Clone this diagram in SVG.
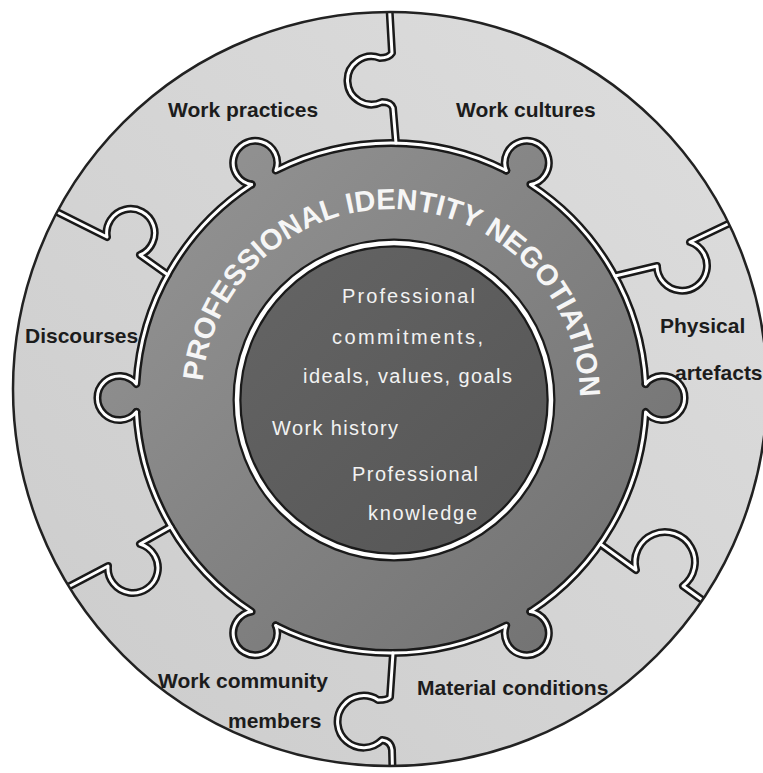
<svg xmlns="http://www.w3.org/2000/svg" width="763" height="773" viewBox="0 0 763 773">
<defs>
<style>
.lbl{font-family:"Liberation Sans",Arial,sans-serif;font-weight:bold;font-size:21px;fill:#1c1c1c}
.in{font-family:"Liberation Sans",Arial,sans-serif;font-size:20px;fill:#f2f2f2}
.arc{font-family:"Liberation Sans",Arial,sans-serif;font-weight:bold;font-size:29px;fill:#f6f6f6}
.blk{fill:none;stroke:#1a1a1a;stroke-width:8;stroke-linejoin:round;stroke-linecap:round}
.wht{fill:none;stroke:#ffffff;stroke-width:3;stroke-linejoin:round;stroke-linecap:round}
</style>
<linearGradient id="og" gradientUnits="userSpaceOnUse" x1="60" y1="700" x2="700" y2="80">
<stop offset="0" stop-color="#cdcdcd"/><stop offset="1" stop-color="#dcdcdc"/>
</linearGradient>
<linearGradient id="mg" gradientUnits="userSpaceOnUse" x1="160" y1="160" x2="630" y2="640">
<stop offset="0" stop-color="#939393"/><stop offset="1" stop-color="#717171"/>
</linearGradient>
<linearGradient id="ig" gradientUnits="userSpaceOnUse" x1="260" y1="260" x2="540" y2="550">
<stop offset="0" stop-color="#646464"/><stop offset="1" stop-color="#555555"/>
</linearGradient>
<path id="seg" d="M 645.62,384 A 22 22 0 1 1 645.62,412 A 255 255 0 0 1 530.43,611.51"/>
<path id="knob" d="M 645.62,384 A 22 22 0 1 1 645.62,412 Z"/>
<clipPath id="midclip">
<circle cx="391" cy="398" r="255"/>
<use href="#knob"/>
<use href="#knob" transform="rotate(60 391 398)"/>
<use href="#knob" transform="rotate(120 391 398)"/>
<use href="#knob" transform="rotate(180 391 398)"/>
<use href="#knob" transform="rotate(240 391 398)"/>
<use href="#knob" transform="rotate(300 391 398)"/>
</clipPath>
<clipPath id="outclip"><circle cx="390" cy="389" r="377"/></clipPath>
<g id="divs">
<path d="M 389,0 L 392,53 Q 389,58 380,58 A 24 24 0 1 0 382,102 Q 391,102 393,108 L 396,143.05"/>
<path d="M 615.1,276 L 657,266 A 25 25 0 1 0 690,242 L 730,223 L 775,202"/>
<path d="M 600.2,543.9 L 636,570 A 30 30 0 1 1 683,586 L 712,607 L 745,631"/>
<path d="M 393,653 L 390,697 Q 388,700 378,700 A 26 26 0 1 0 382,740 Q 391,741 392,750 L 393,790"/>
<path d="M 170.8,526.6 L 140,544 A 25 25 0 1 1 108,566 L 68,587 L 25,610"/>
<path d="M 15,190 L 57,212 L 107,237 A 24 24 0 1 1 140,255 L 167.7,274.8"/>
</g>
<g id="ringline">
<use href="#seg"/>
<use href="#seg" transform="rotate(60 391 398)"/>
<use href="#seg" transform="rotate(120 391 398)"/>
<use href="#seg" transform="rotate(180 391 398)"/>
<use href="#seg" transform="rotate(240 391 398)"/>
<use href="#seg" transform="rotate(300 391 398)"/>
</g>
<path id="tp" d="M 202.72,381.53 A 189 189 0 0 1 579.88,404.6"/>
</defs>
<rect width="763" height="773" fill="#ffffff"/>
<g id="outer-ring">
<circle cx="390" cy="389" r="377" fill="url(#og)"/>
</g>
<g id="negotiation-ring">
<rect x="80" y="90" width="630" height="630" fill="url(#mg)" clip-path="url(#midclip)"/>
</g>
<g id="core">
<circle cx="394" cy="400" r="157" fill="url(#ig)"/>
</g>
<g id="connectors" clip-path="url(#outclip)">
<use href="#divs" class="blk"/>
<use href="#ringline" class="blk"/>
<use href="#divs" class="wht"/>
<use href="#ringline" class="wht"/>
</g>
<circle cx="390" cy="389" r="377" fill="none" stroke="#222222" stroke-width="2.5"/>
<circle cx="394" cy="400" r="157" fill="none" stroke="#1a1a1a" stroke-width="9"/>
<circle cx="394" cy="400" r="157" fill="none" stroke="#ffffff" stroke-width="4.5"/>
<g id="work-practices"><text class="lbl" x="168" y="117">Work practices</text></g>
<g id="work-cultures"><text class="lbl" x="456" y="117">Work cultures</text></g>
<g id="discourses"><text class="lbl" x="25" y="343">Discourses</text></g>
<g id="physical-artefacts"><text class="lbl" x="660" y="333">Physical</text><text class="lbl" x="675" y="380">artefacts</text></g>
<g id="material-conditions"><text class="lbl" x="417" y="695">Material conditions</text></g>
<g id="work-community-members"><text class="lbl" x="158" y="688">Work community</text><text class="lbl" x="228" y="728">members</text></g>
<g id="identity-negotiation"><text class="arc"><textPath href="#tp" textLength="576" lengthAdjust="spacing">PROFESSIONAL IDENTITY NEGOTIATION</textPath></text></g>
<g id="core-texts">
<text class="in" x="342" y="303" textLength="133" lengthAdjust="spacing">Professional</text>
<text class="in" x="332" y="344" textLength="151" lengthAdjust="spacing">commitments,</text>
<text class="in" x="303" y="383" textLength="209" lengthAdjust="spacing">ideals, values, goals</text>
<text class="in" x="272" y="435" textLength="126" lengthAdjust="spacing">Work history</text>
<text class="in" x="352" y="481" textLength="126" lengthAdjust="spacing">Professional</text>
<text class="in" x="368" y="520" textLength="109" lengthAdjust="spacing">knowledge</text>
</g>
</svg>
